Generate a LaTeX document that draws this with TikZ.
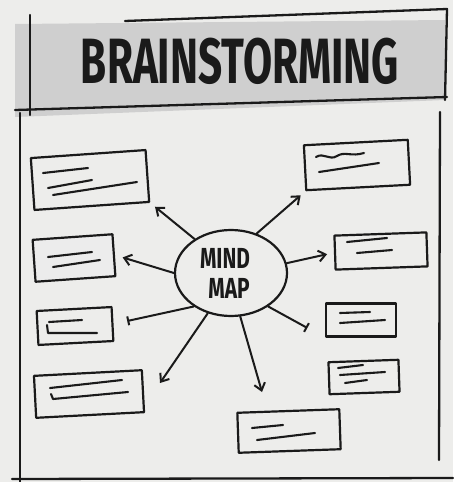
\documentclass[tikz,border=0pt]{standalone}
\usepackage{fontspec}
\usepackage{graphicx}
\usetikzlibrary{positioning,shapes.geometric,arrows.meta}
\newfontfamily\handfont{Fira Sans}
\definecolor{BoardBg}{HTML}{EDEDEB}
\definecolor{BannerGray}{HTML}{CFCFCF}
\definecolor{Ink}{HTML}{1A1A1A}

\begin{document}
\begin{tikzpicture}[x=1pt,y=-1pt,>={Straight Barb[length=7pt,width=11pt]},
    line cap=round,line join=round]
    \tikzstyle{idea}=[draw=Ink,line width=2.2pt,inner sep=0pt]
    \tikzstyle{scribble}=[draw=Ink,line width=2.1pt]
    \tikzstyle{link}=[draw=Ink,line width=2pt,->]
    \tikzstyle{frame}=[draw=Ink,line width=2.3pt]
    \useasboundingbox[fill=BoardBg] (0,0) rectangle (453,482);
    % banner
    \fill[BannerGray] (15,24) -- (445,20) -- (445,100) -- (15,117) -- cycle;
    \draw[frame] (125,21) -- (447,9) -- (445,100);
    \draw[frame] (30,15) -- (30,115);
    \draw[frame] (15,110) -- (447,97);
    \node[text=Ink,font=\handfont\bfseries\fontsize{64}{70}\selectfont] (title) at (240,61)
      {\scalebox{0.66}[1]{BRAINSTORMING}};
    % board
    \draw[frame] (20,113) -- (20,482);
    \draw[frame] (440,112) -- (439,460);
    \draw[frame] (12,479) -- (453,478);
    % centre
    \node[idea,ellipse,minimum width=112pt,minimum height=86pt,align=center,text=Ink,
      font=\handfont\bfseries\fontsize{29}{30}\selectfont] (mm) at (231,273)
      {\scalebox{0.72}[1]{MIND}\kern12pt\\\scalebox{0.72}[1]{MAP}\kern4pt};
    % idea boxes
    \node[idea,minimum width=115pt,minimum height=52pt,rotate=4] (b1) at (90,180) {};
    \node[idea,minimum width=80pt,minimum height=42pt,rotate=4,fill=BannerGray!40] (b2) at (74,258) {};
    \node[idea,minimum width=75pt,minimum height=34pt,rotate=3] (b3) at (75,326) {};
    \node[idea,minimum width=108pt,minimum height=42pt,rotate=3] (b4) at (89,394) {};
    \node[idea,minimum width=104pt,minimum height=45pt,rotate=3] (b5) at (357,165) {};
    \node[idea,minimum width=92pt,minimum height=34pt,rotate=2] (b6) at (381,251) {};
    \node[idea,minimum width=70pt,minimum height=33pt] (b7) at (361,320) {};
    \node[idea,minimum width=70pt,minimum height=32pt,rotate=2] (b8) at (364,377) {};
    \node[idea,minimum width=102pt,minimum height=40pt,rotate=2] (b9) at (289,431) {};
    % scribbles
    \draw[scribble,shift={(b1.center)}] (-47,-7) -- (-2,-12) (-42,8) -- (2,0) (-37,15) -- (47,2);
    \draw[scribble,shift={(b2.center)}] (-26,-1) -- (18,-6) (-21,9) -- (26,2);
    \draw[scribble,shift={(b3.center)}] (7,-6) -- (-26,-4) (-28,-1) -- (-27,7) -- (22,7);
    \draw[scribble,shift={(b4.center)}] (-39,-6) -- (33,-14) (-38,0) -- (-36,5) -- (39,-2);
    \draw[scribble,shift={(b5.center)}] (-41,-8) .. controls (-33,-13) and (-28,-4) .. (-20,-9)
      .. controls (-12,-14) and (-6,-8) .. (7,-12) (-38,7) -- (22,-2);
    \draw[scribble,shift={(b6.center)}] (-34,-9) -- (6,-13) (-24,2) -- (11,-1);
    \draw[scribble,shift={(b7.center)}] (-21,-7) -- (9,-8) (-21,3) -- (24,0);
    \draw[scribble,shift={(b8.center)}] (-26,-9) -- (-1,-12) (-24,-2) -- (21,-5) (-19,6) -- (3,3);
    \draw[scribble,shift={(b9.center)}] (-37,-3) -- (-6,-6) (-32,9) -- (26,2);
    % links
    \coordinate (t4) at (160,383);
    \coordinate (t9) at (262,392);
    \draw[link,shorten >=6pt] (mm.137) -- (b1.south east);
    \draw[link,shorten >=8pt] (mm.180) -- (b2.east);
    \draw[link,-{Bar[width=9pt]},shorten >=14pt] (mm.222) -- (b3.east);
    \draw[link] (mm.240) -- (t4);
    \draw[link] (mm.282) -- (t9);
    \draw[link,-{Bar[width=10pt]},shorten >=20pt] (mm.318) -- (b7.south west);
    \draw[link,shorten >=7pt] (mm.10) -- (b6.west);
    \draw[link,shorten >=6pt] (mm.57) -- (b5.south west);
  \end{tikzpicture}
\end{document}
